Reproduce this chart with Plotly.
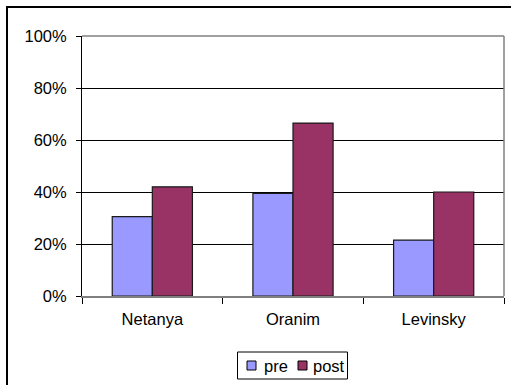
import plotly.graph_objects as go

# Share of participants by site, before and after the programme
sites = ["Netanya", "Oranim", "Levinsky"]
pre_values = [0.305, 0.395, 0.215]
post_values = [0.42, 0.665, 0.40]
series_names = ["pre", "post"]
series_colors = ["#9999FF", "#993366"]
y_ticks = [0, 0.2, 0.4, 0.6, 0.8, 1.0]
y_tick_labels = ["0%", "20%", "40%", "60%", "80%", "100%"]

W, H = 511, 385
L, R, T, B = 82, 7, 36, 89  # plot area: x 82..504, y 36..296
PW, PH = W - L - R, H - T - B


def px_x(px):
    """Pixel column -> paper x (paper spans the plot area)."""
    return (px - L) / PW


def px_y(py):
    """Pixel row -> paper y."""
    return (H - B - py) / PH


FONT = "Liberation Sans, Arial, sans-serif"
FS = 16.5

fig = go.Figure()
for name, vals, col in zip(series_names, [pre_values, post_values], series_colors):
    fig.add_trace(go.Bar(
        name=name, x=sites, y=vals,
        marker=dict(color=col, line=dict(color="#1a1a1a", width=1.2)),
    ))

shapes = [
    # chart frame (runs past the window on the right and bottom)
    dict(type="rect", xref="paper", yref="paper",
         x0=px_x(7), x1=px_x(530), y0=px_y(400), y1=px_y(7),
         line=dict(color="#000000", width=2), layer="below"),
    # grey plot-area border, top and right
    dict(type="line", xref="paper", yref="paper", x0=0, x1=1, y0=1, y1=1,
         line=dict(color="#808080", width=1.5)),
    dict(type="line", xref="paper", yref="paper", x0=1, x1=1, y0=0, y1=1,
         line=dict(color="#808080", width=1.5)),
    # legend box
    dict(type="rect", xref="paper", yref="paper",
         x0=px_x(237.5), x1=px_x(347.5), y0=px_y(379), y1=px_y(352),
         line=dict(color="#000000", width=1), fillcolor="white"),
]
annotations = []

# legend entries: swatch + label
legend_items = [(247, 262), (298, 310.5)]
for (sx, tx), name, col in zip(legend_items, series_names, series_colors):
    shapes.append(dict(type="rect", xref="paper", yref="paper",
                       x0=px_x(sx), x1=px_x(sx + 9), y0=px_y(370), y1=px_y(361),
                       line=dict(color="#000000", width=1), fillcolor=col))
    annotations.append(dict(text=name, xref="paper", yref="paper",
                            x=px_x(tx), y=px_y(365.5), xanchor="left", yanchor="middle",
                            showarrow=False, font=dict(family=FONT, size=FS, color="#000000")))

fig.update_layout(
    width=W, height=H,
    margin=dict(l=L, r=R, t=T, b=B, pad=0),
    paper_bgcolor="white", plot_bgcolor="white",
    font=dict(family=FONT, size=FS, color="#000000"),
    barmode="group",
    bargap=0.43, bargroupgap=0,
    showlegend=False,
    xaxis=dict(
        type="category",
        showgrid=False,
        showline=True, linecolor="#808080", linewidth=1.5,
        ticks="outside", tickson="boundaries", ticklen=6,
        tickcolor="#000000", tickwidth=1,
        ticklabelstandoff=7,
        tickfont=dict(family=FONT, size=FS, color="#000000"),
        zeroline=False,
    ),
    yaxis=dict(
        range=[0, 1],
        tickvals=y_ticks, ticktext=y_tick_labels,
        showgrid=True, gridcolor="#000000", gridwidth=1,
        showline=True, linecolor="#000000", linewidth=1,
        ticks="outside", ticklen=5, tickcolor="#000000",
        ticklabelstandoff=6,
        tickfont=dict(family=FONT, size=FS, color="#000000"),
        zeroline=False,
    ),
    shapes=shapes,
    annotations=annotations,
)

fig.write_html("out.html")
